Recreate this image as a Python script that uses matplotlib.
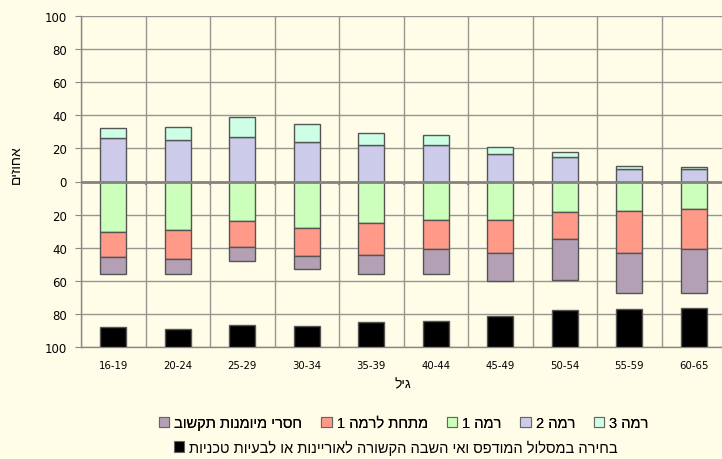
import numpy as np
import matplotlib
matplotlib.use("Agg")
import matplotlib.pyplot as plt
from matplotlib.patches import Patch

# Hebrew fonts: matplotlib has no bidi, so strings are given in visual order
plt.rcParams['font.family'] = ['Liberation Sans', 'DejaVu Sans']


def heb(s):
    # reverse logical Hebrew text to visual left-to-right order
    return s[::-1]


# data (percent)
ages = ['16-19', '20-24', '25-29', '30-34', '35-39',
        '40-44', '45-49', '50-54', '55-59', '60-65']
level3 = [6, 8, 11.8, 10.9, 7, 6, 4.4, 3.2, 2, 1.2]
level2 = [26, 25, 27, 24, 22, 22, 16.3, 14.5, 7.5, 7.5]
level1 = [30.5, 29, 24, 28, 25, 23.5, 23.5, 18.5, 18, 16.5]
below1 = [15, 18, 15.5, 17, 19.5, 17.5, 19.5, 16, 25, 24]
no_skills = [10, 9, 8.5, 7.5, 11, 14.5, 17, 25, 24.5, 27]
paper = [12, 11, 13.5, 12.7, 15, 16, 19, 22.7, 22.9, 23.5]

labels = {
    'level3': heb('רמה 3'),
    'level2': heb('רמה 2'),
    'level1': heb('רמה 1'),
    'below1': heb('מתחת לרמה 1'),
    'no_skills': heb('חסרי מיומנות תקשוב'),
    'paper': heb('בחירה במסלול המודפס ואי השבה הקשורה לאוריינות או לבעיות טכניות'),
}

colors = {
    'level3': '#CCFFE6',
    'level2': '#CCCCEA',
    'level1': '#CCFFBB',
    'below1': '#FF9988',
    'no_skills': '#B3A0B5',
    'paper': '#000000',
}

bg = '#FFFCE8'
edge = '#555555'

fig = plt.figure(figsize=(7.22, 4.60), dpi=100, facecolor=bg)
ax = fig.add_axes([81 / 722, 1 - 348.3 / 460, 645 / 722, 331.6 / 460])
ax.set_facecolor(bg)

x = np.arange(len(ages))
w = 0.4
l2 = np.array(level2)
l3 = np.array(level3)
l1 = np.array(level1)
b1 = np.array(below1)
ns = np.array(no_skills)
pp = np.array(paper)

# above zero: level 2 then level 3
ax.bar(x, l2, w, color=colors['level2'], edgecolor=edge, lw=1, zorder=3)
ax.bar(x, l3, w, bottom=l2, color=colors['level3'], edgecolor=edge, lw=1, zorder=3)
# below zero: level 1, below level 1, missing skills
ax.bar(x, -l1, w, color=colors['level1'], edgecolor=edge, lw=1, zorder=3)
ax.bar(x, -b1, w, bottom=-l1, color=colors['below1'], edgecolor=edge, lw=1, zorder=3)
ax.bar(x, -ns, w, bottom=-(l1 + b1), color=colors['no_skills'], edgecolor=edge, lw=1, zorder=3)
# paper-based choice, measured up from the bottom
ax.bar(x, pp, w, bottom=-100, color=colors['paper'], edgecolor=edge, lw=1, zorder=3)

ax.set_xlim(-0.5, len(ages) - 0.5)
ax.set_ylim(-100, 100)
yt = np.arange(-100, 101, 20)
ax.set_yticks(yt)
ax.set_yticklabels([str(abs(v)) for v in yt], fontsize=8.5, family='DejaVu Sans')
ax.set_xticks(x)
ax.set_xticklabels(ages, fontsize=7.3, family='DejaVu Sans')
ax.tick_params(axis='x', length=0, pad=9)
ax.tick_params(axis='y', length=4, color='#888888', pad=6)

# grid
bounds = np.arange(len(ages) + 1) - 0.5
for yv in yt:
    ax.axhline(yv, color='#96968F', lw=1, zorder=1)
for b in bounds:
    ax.axvline(b, color='#96968F', lw=1, zorder=1)
ax.axhline(0, color='#858580', lw=2, zorder=4)
ax.vlines(bounds, -2.2, 0, color='#858580', lw=1.5, zorder=4)

for s in ['top', 'right']:
    ax.spines[s].set_visible(False)
for s in ['left', 'bottom']:
    ax.spines[s].set_color('#888888')
    ax.spines[s].set_linewidth(1)

fig.text(403 / 722, 1 - 384 / 460, heb('גיל'), fontsize=10, ha='center', va='center')
fig.text(16 / 722, 1 - 165 / 460, heb('אחוזים'), fontsize=10, rotation=90,
         ha='center', va='center')

# legend row 1
order = ['no_skills', 'below1', 'level1', 'level2', 'level3']
h1 = [Patch(facecolor=colors[k], edgecolor='#666666', lw=0.8) for k in order]
leg1 = fig.legend(h1, [labels[k] for k in order], ncol=5, frameon=False,
                  loc='center', bbox_to_anchor=(404 / 722, 1 - 424 / 460),
                  fontsize=10.5, handlelength=0.7, handleheight=0.7,
                  handletextpad=0.35, columnspacing=1.3)
fig.add_artist(leg1)
h2 = [Patch(facecolor=colors['paper'], edgecolor='#666666', lw=0.8)]
fig.legend(h2, [labels['paper']], frameon=False, loc='center',
           bbox_to_anchor=(396 / 722, 1 - 448 / 460), fontsize=10.5,
           handlelength=0.7, handleheight=0.7, handletextpad=0.35)

fig.savefig('out.png', dpi=100, facecolor=bg)
